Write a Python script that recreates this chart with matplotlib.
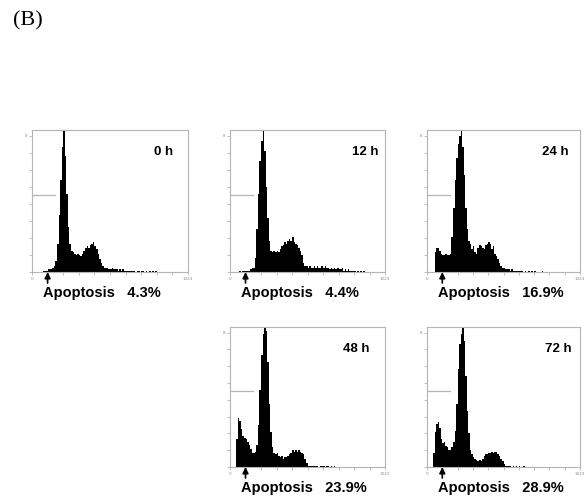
import matplotlib
matplotlib.use('Agg')
from matplotlib import pyplot as plt
import numpy as np

# DNA content histograms (PI channel, 100 bins), counts scaled so the G1 peak = 100
times = ['0 h', '12 h', '24 h', '48 h', '72 h']
apoptosis = [4.3, 4.4, 16.9, 23.9, 28.9]

h0 = [0, 0, 0, 0, 0, 0, 0, 1, 1, 1,
      2, 2, 2, 3, 4, 8, 20, 40, 65, 88,
      100, 82, 55, 32, 20, 15, 14, 13, 12, 13,
      12, 11, 13, 15, 17, 18, 17, 19, 20, 21,
      18, 16, 13, 9, 6, 4, 3, 3, 3, 2,
      2, 3, 2, 2, 2, 1, 2, 1, 2, 1,
      1, 1, 1, 0.5, 1, 0.5, 0, 1, 0.5, 0,
      1, 0.5, 0, 0.5, 0, 0.5, 0, 0.5, 0, 0.5,
      0, 0, 0, 0, 0, 0, 0, 0, 0, 0,
      0, 0, 0, 0, 0, 0, 0, 0, 0, 0]

h12 = [0, 0, 0, 0, 0, 0, 0.5, 0, 0.5, 1,
       1, 0.5, 1, 2, 3, 3, 10, 30, 55, 78,
       92, 100, 85, 60, 38, 22, 15, 14, 15, 14,
       15, 14, 16, 18, 19, 21, 20, 22, 23, 22,
       25, 21, 20, 19, 17, 15, 12, 6, 4, 4,
       3, 4, 3, 3, 4, 3, 4, 3, 3, 4,
       3, 4, 3, 3, 2, 3, 2, 3, 2, 3,
       2, 2, 3, 1, 2, 1, 2, 1, 1, 0.5,
       1, 0, 0.5, 0, 0.5, 0, 0.5, 0, 0, 0,
       0, 0, 0, 0, 0, 0, 0, 0, 0, 0]

h24 = [0, 0, 0, 0, 0, 14, 17, 17, 15, 13,
       12, 12, 13, 12, 12, 13, 25, 45, 65, 80,
       90, 96, 100, 88, 68, 45, 30, 22, 20, 16,
       18, 14, 13, 17, 19, 18, 17, 16, 19, 20,
       21, 20, 16, 18, 13, 11, 9, 6, 4, 3,
       3, 2, 2, 2, 1, 2, 1, 1, 1, 1,
       0.5, 1, 0.5, 0, 0.5, 0, 0.5, 0, 0.5, 0,
       0.5, 0, 0, 0, 0, 0.5, 0, 0, 0, 0,
       0, 0, 0, 0, 0, 0, 0, 0, 0, 0,
       0, 0, 0, 0, 0, 0, 0, 0, 0, 0]

h48 = [0, 0, 0, 0, 20, 35, 33, 27, 22, 21,
       20, 18, 16, 13, 10, 10, 11, 16, 30, 55,
       80, 95, 100, 97, 75, 45, 25, 14, 10, 9,
       10, 8, 7, 8, 6, 7, 7, 8, 9, 10,
       12, 11, 12, 11, 12, 11, 10, 9, 6, 3,
       1, 0.5, 1, 0.5, 0.5, 1, 0.5, 0, 1, 0.5,
       1, 0, 1, 0.5, 0, 0.5, 0, 0.5, 0, 0,
       0, 0, 0, 0, 0, 0, 0, 0, 0, 0,
       0, 0, 0, 0, 0, 0, 0, 0, 0, 0,
       0, 0, 0, 0, 0, 0, 0, 0, 0, 0]

h72 = [0, 0, 0, 0, 10, 25, 31, 32, 28, 20,
       17, 18, 15, 14, 12, 12, 14, 18, 26, 45,
       70, 88, 95, 100, 90, 65, 40, 24, 12, 9,
       7, 6, 5, 4, 5, 4, 6, 8, 9, 9,
       10, 10, 11, 10, 11, 11, 9, 8, 6, 4,
       2, 1, 0.5, 0.5, 0.5, 0, 0.5, 0, 0.5, 0,
       1, 0, 0, 0.5, 0, 0, 0, 0, 0, 0,
       0, 0, 0, 0, 0, 0, 0, 0, 0, 0,
       0, 0, 0, 0, 0, 0, 0, 0, 0, 0,
       0, 0, 0, 0, 0, 0, 0, 0, 0, 0]

hists = [h0, h12, h24, h48, h72]
arrow_bin = 10  # upper limit of the sub-G1 gate

# panel rectangles in pixels: left, top, right, bottom
W, H = 588, 503
boxes = [(32, 130, 188, 272), (230, 130, 385, 272), (427, 130, 580, 272),
         (230, 327, 385, 467), (427, 327, 580, 467)]
label_x = [0.78, 0.79, 0.75, 0.73, 0.77]

bold = dict(family=['Liberation Sans', 'DejaVu Sans'], fontweight='bold', color='black')
grey = '#b4b4b4'

fig = plt.figure(figsize=(W / 100, H / 100), dpi=100)
fig.patch.set_facecolor('white')

fig.text(13 / W, 1 - 21 / H, '(B)', family=['Liberation Serif', 'DejaVu Serif'],
         fontsize=16, va='center', ha='left')

for i, (l, t, r, b) in enumerate(boxes):
    ax = fig.add_axes([l / W, 1 - b / H, (r - l) / W, (b - t) / H])
    edges = np.arange(len(hists[i]) + 1)
    ax.stairs(hists[i], edges, fill=True, color='black', lw=0)
    ax.set_xlim(0, 100)
    ax.set_ylim(0, 100)

    for s in ax.spines.values():
        s.set_color(grey)
        s.set_linewidth(0.8)
    ax.set_xticks(np.arange(0, 101, 10))
    ax.set_xticklabels(['0'] + [''] * 9 + ['1023'])
    ax.set_yticks(np.arange(0, 97, 12))
    ax.set_yticklabels([''] * 8 + ['8'])
    ax.tick_params(direction='out', length=2.5, width=0.6, color=grey,
                   labelsize=3, labelcolor='#888888', pad=1)

    # marker gate line on the left
    ax.plot([0, 0.15], [0.54, 0.54], transform=ax.transAxes, color=grey, lw=0.9)

    ax.text(label_x[i], 0.845, times[i], transform=ax.transAxes,
            fontsize=9.5, va='center', ha='left', **bold)

    ax.annotate('', xy=(arrow_bin, 0), xycoords='data',
                xytext=(0, -11), textcoords='offset pixels',
                arrowprops=dict(arrowstyle='-|>,head_length=0.35,head_width=0.17',
                                color='black', lw=1.2, mutation_scale=10,
                                shrinkA=0, shrinkB=0),
                annotation_clip=False)
    ax.annotate(f'Apoptosis   {apoptosis[i]}%', xy=(0, 0), xycoords='axes fraction',
                xytext=(11, -14), textcoords='offset pixels',
                fontsize=10.5, va='top', ha='left', **bold)

fig.savefig('out.png', dpi=100, facecolor='white')
